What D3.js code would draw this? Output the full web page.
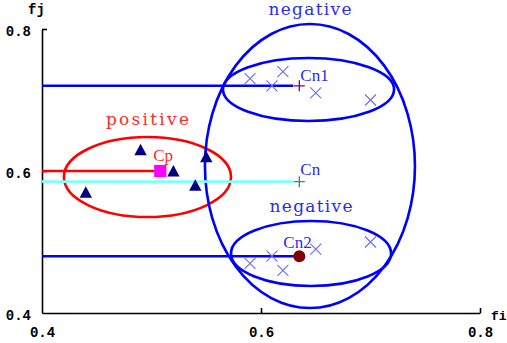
<!DOCTYPE html>
<html>
<head>
<meta charset="utf-8">
<script src="https://cdn.jsdelivr.net/npm/d3@7"></script>
<style>
  html, body { margin: 0; padding: 0; background: #fff; }
  svg { display: block; }
</style>
</head>
<body>
<svg id="chart" width="507" height="343"></svg>
<script>
// Positive samples (fi, fj)
const positiveFi = [0.49, 0.52, 0.55, 0.54, 0.44];
const positiveFj = [0.63, 0.60, 0.62, 0.58, 0.57];

// Negative samples, upper group and lower group
const negUpperFi = [0.59, 0.61, 0.62, 0.65, 0.70];
const negUpperFj = [0.73, 0.72, 0.74, 0.71, 0.70];
const negLowerFi = [0.59, 0.61, 0.62, 0.65, 0.70];
const negLowerFj = [0.47, 0.48, 0.46, 0.49, 0.50];

// Class centres
const centreNames = ["Cn1", "Cn", "Cp", "Cn2"];
const centreFi = [0.635, 0.635, 0.508, 0.635];
const centreFj = [0.72, 0.585, 0.60, 0.48];

// Cluster ellipses: centre and semi-axes in data units
const ellipseNames = ["positive", "negative", "negUpper", "negLower"];
const ellipseCx = [0.4963, 0.6447, 0.6434, 0.6457];
const ellipseCy = [0.5915, 0.607, 0.7148, 0.4838];
const ellipseRx = [0.0763, 0.0959, 0.0781, 0.0731];
const ellipseRy = [0.0563, 0.200, 0.0444, 0.0458];

// Axis ticks
const tickValues = [0.4, 0.6, 0.8];

const svg = d3.select("#chart");
const x = d3.scaleLinear().domain([0.4, 0.8]).range([42, 480]);
const y = d3.scaleLinear().domain([0.4, 0.8]).range([313, 29]);

const BLUE = "#0000ff";
const RED = "#ff0000";
const CYAN = "#80ffff";
const NAVY = "#000080";
const CROSS = "#6b6bff";
const LABEL_BLUE = "#2b2bee";
const LABEL_RED = "#ff2a2a";
const SERIF = "'DejaVu Serif', 'Liberation Serif', serif";
const MONO = "'Liberation Mono', 'DejaVu Sans Mono', monospace";

// Axes
const fmt = d3.format(".1f");
const xAxis = d3.axisBottom(x).tickValues(tickValues).tickFormat(fmt)
  .tickSizeInner(-5).tickSizeOuter(0).tickPadding(15);
const yAxis = d3.axisLeft(y).tickValues(tickValues).tickFormat(fmt)
  .tickSizeInner(-5).tickSizeOuter(0).tickPadding(11);

function styleAxis(g) {
  g.select(".domain").attr("stroke", "#000").attr("stroke-width", 1.6);
  g.selectAll(".tick line").attr("stroke", "#000").attr("stroke-width", 1.6);
  g.selectAll(".tick text")
    .attr("fill", "#000")
    .style("font-family", MONO)
    .style("font-weight", "bold")
    .style("font-size", "14px");
}

const gx = svg.append("g").attr("transform", `translate(0,${y(0.4)})`).call(xAxis).call(styleAxis);
const gy = svg.append("g").attr("transform", `translate(${x(0.4)},0)`).call(yAxis).call(styleAxis);
gx.selectAll(".tick text").attr("dy", "0.66em");
gy.selectAll(".tick text").attr("dy", "0.44em");
// the corner tick is not drawn
gx.selectAll(".tick").filter(d => d === 0.4).select("line").remove();
gy.selectAll(".tick").filter(d => d === 0.4).select("line").remove();

svg.append("text").text("fj")
  .attr("x", 28).attr("y", 14)
  .style("font-family", MONO).style("font-weight", "bold").style("font-size", "14px");
svg.append("text").text("fi")
  .attr("x", x(0.8) + 11).attr("y", y(0.4) + 7)
  .style("font-family", MONO).style("font-weight", "bold").style("font-size", "13px");

// Ellipses
const ellipses = ellipseNames.map((n, i) => ({
  name: n, cx: ellipseCx[i], cy: ellipseCy[i], rx: ellipseRx[i], ry: ellipseRy[i]
}));
svg.append("g").selectAll("ellipse").data(ellipses).join("ellipse")
  .attr("cx", d => x(d.cx))
  .attr("cy", d => y(d.cy))
  .attr("rx", d => x(d.cx + d.rx) - x(d.cx))
  .attr("ry", d => y(d.cy) - y(d.cy + d.ry))
  .attr("fill", "none")
  .attr("stroke", d => d.name === "positive" ? RED : BLUE)
  .attr("stroke-width", 2.6);

// Ellipse captions
function caption(text, e, color, gap) {
  svg.append("text").text(text)
    .attr("x", x(e.cx))
    .attr("y", y(e.cy + e.ry) - gap)
    .attr("text-anchor", "middle")
    .attr("textLength", 83).attr("lengthAdjust", "spacing")
    .attr("fill", color)
    .style("font-family", SERIF).style("font-size", "17px");
}
caption("positive", ellipses[0], LABEL_RED, 12);
caption("negative", ellipses[1], LABEL_BLUE, 9);
caption("negative", ellipses[3], LABEL_BLUE, 9);

// Centre guide lines from the fj axis
const centres = centreNames.map((n, i) => ({ name: n, fi: centreFi[i], fj: centreFj[i] }));
const guideColor = { Cn1: BLUE, Cn: CYAN, Cp: RED, Cn2: BLUE };
const guideGap = { Cn1: 6, Cn: 6, Cp: 6, Cn2: 0 };
svg.append("g").selectAll("line").data(centres).join("line")
  .attr("x1", x(0.4))
  .attr("x2", d => x(d.fi) - guideGap[d.name])
  .attr("y1", d => y(d.fj))
  .attr("y2", d => y(d.fj))
  .attr("stroke", d => guideColor[d.name])
  .attr("stroke-width", 2.6);

// Negative samples (crosses)
const negatives = negUpperFi.map((v, i) => ({ fi: v, fj: negUpperFj[i] }))
  .concat(negLowerFi.map((v, i) => ({ fi: v, fj: negLowerFj[i] })));
svg.append("g").selectAll("path").data(negatives).join("path")
  .attr("transform", d => `translate(${x(d.fi)},${y(d.fj)})`)
  .attr("d", "M-5.5,-5.5L5.5,5.5M-5.5,5.5L5.5,-5.5")
  .attr("stroke", CROSS).attr("stroke-width", 1.1).attr("fill", "none");

// Positive samples (triangles)
const positives = positiveFi.map((v, i) => ({ fi: v, fj: positiveFj[i] }));
svg.append("g").selectAll("path").data(positives).join("path")
  .attr("transform", d => `translate(${x(d.fi)},${y(d.fj)})`)
  .attr("d", "M0,-6L6.2,5.5L-6.2,5.5Z")
  .attr("fill", NAVY);

// Centre markers
const cm = svg.append("g");
centres.forEach(c => {
  const cx = x(c.fi), cy = y(c.fj);
  if (c.name === "Cp") {
    cm.append("path").attr("transform", `translate(${cx},${cy})`)
      .attr("d", d3.symbol(d3.symbolSquare, 150)()).attr("fill", "#ff00ff");
  } else if (c.name === "Cn2") {
    cm.append("circle").attr("cx", cx).attr("cy", cy).attr("r", 6).attr("fill", "#800000");
  } else {
    cm.append("path").attr("transform", `translate(${cx},${cy})`)
      .attr("d", "M-5.5,0L5.5,0M0,-5.5L0,5.5")
      .attr("stroke", c.name === "Cn1" ? "#800080" : "#2a8a86")
      .attr("stroke-width", 1.3).attr("fill", "none");
  }
});

// Centre labels
const labelOffset = { Cn1: [1, -5], Cn: [1, -7], Cp: [-7, -10], Cn2: [-16, -8] };
svg.append("g").selectAll("text").data(centres).join("text")
  .attr("x", d => x(d.fi) + labelOffset[d.name][0])
  .attr("y", d => y(d.fj) + labelOffset[d.name][1])
  .attr("fill", d => d.name === "Cp" ? LABEL_RED : LABEL_BLUE)
  .style("font-family", "'Liberation Serif', serif").style("font-size", "17px")
  .text(d => d.name);
</script>
</body>
</html>
